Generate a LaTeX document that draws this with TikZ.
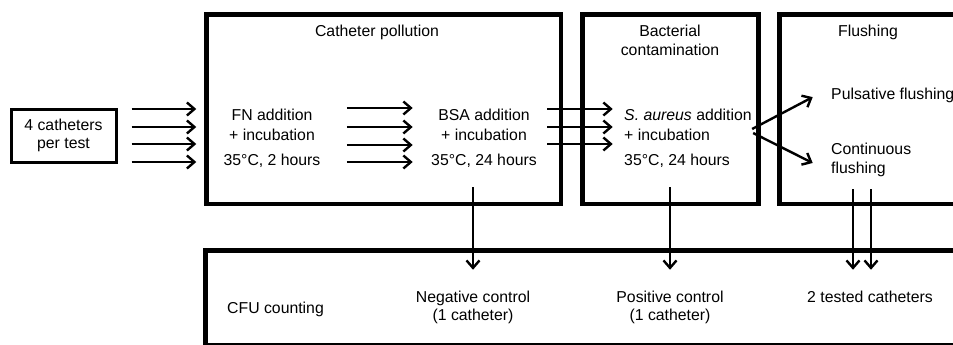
\documentclass[tikz,border=0pt]{standalone}
\usepackage{fontspec}
\setmainfont{Liberation Sans}
\usetikzlibrary{arrows.meta,calc}

\begin{document}
\begin{tikzpicture}[x=1pt,y=-1pt,
    stage/.style ={rectangle, draw, line width=4.5pt, inner sep=0pt},
    txt/.style ={font=\fontsize{15.8}{18.5}\selectfont, align=center},
    flow/.style ={line width=2.4pt, -{Straight Barb[length=7.5pt,width=13pt]}}]
   \clip (0,0) rectangle (953,345);
   % boxes
   \node[stage, txt, line width=3pt, minimum width=105, minimum height=53] (cath) at (63.5,135.5) {4 catheters\\per test};
   \node[stage, minimum width=354.5, minimum height=189.5] (poll) at (383.75,109.25) {};
   \node[stage, minimum width=176, minimum height=189.5] (bact) at (670.5,109.25) {};
   \node[stage, minimum width=185.5, minimum height=189.5] (flush) at (872.25,109.25) {};
   \node[stage, minimum width=759.5, minimum height=95] (cfu) at (585.25,298) {};
   % titles
   \node[txt] (pollT) at (377,32.6) {Catheter pollution};
   \node[txt] (bactT) at (670,40.5) {Bacterial\\contamination};
   \node[txt] (flushT) at (868,32.6) {Flushing};
   % steps
   \node[txt] (fn) at (272,138.5) {FN addition\\[1.5pt]+ incubation\\[6.5pt]35°C, 2 hours};
   \node[txt] (bsa) at (484,138.5) {BSA addition\\[1.5pt]+ incubation\\[6.5pt]35°C, 24 hours};
   \node[txt, align=left, anchor=west] (aur) at (620.7,138.5) {\textit{S. aureus} addition\\[1.5pt]+ incubation\\[6.5pt]35°C, 24 hours};
   \node[txt, align=left, anchor=west] (puls) at (827.7,95.6) {Pulsative flushing};
   \node[txt, align=left, anchor=west] (cont) at (827.7,160) {Continuous\\flushing};
   \node[txt, anchor=west] (count) at (223.7,309.6) {CFU counting};
   \node[txt] (neg) at (473,307.6) {Negative control\\(1 catheter)};
   \node[txt] (pos) at (670,307.6) {Positive control\\(1 catheter)};
   \node[txt] (tested) at (870,297) {2 tested catheters};
   % arrows
   \foreach \y in {109,127,144,162}
     \draw[flow] ($(cath.east |- 0,\y)+(14,0)$) -- ($(poll.west |- 0,\y)+(-8,0)$);
   \foreach \y in {108,127,145,162}
     \draw[flow] ($(fn.east |- 0,\y)+(23,0)$) -- ($(bsa.west |- 0,\y)+(-15,0)$);
   \foreach \y in {109,127,144}
     \draw[flow] ($(bsa.east |- 0,\y)+(7,0)$) -- ($(aur.west |- 0,\y)+(-8,0)$);
   \draw[flow] ($(aur.east)+(-3,-9.5)$) -- ($(puls.west)+(-15,1.5)$);
   \draw[flow] ($(aur.east)+(-2,-5.5)$) -- ($(cont.west)+(-15,3)$);
   \draw[flow] ($(neg.north |- poll.south)+(0,-19)$) -- ($(neg.north |- cfu.north)+(0,21.5)$);
   \draw[flow] ($(pos.north |- bact.south)+(0,-19)$) -- ($(pos.north |- cfu.north)+(0,21.5)$);
   \draw[flow] ($(tested.north |- flush.south)+(-17,-17)$) -- ($(tested.north |- cfu.north)+(-17,21.5)$);
   \draw[flow] ($(tested.north |- flush.south)+(1,-17)$) -- ($(tested.north |- cfu.north)+(1,21.5)$);
 \end{tikzpicture}
\end{document}
